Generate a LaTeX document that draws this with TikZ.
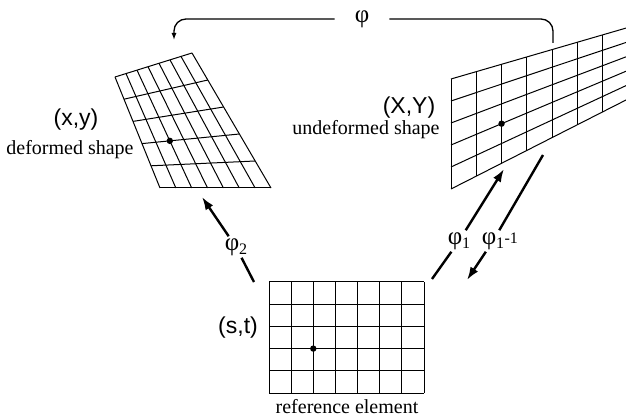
\documentclass[tikz,border=0pt]{standalone}
\usepackage{fontspec}
\setmainfont{Liberation Serif}
\newfontfamily\helvfont{Liberation Sans}
\usetikzlibrary{calc,arrows.meta}

% mesh of 7 x 5 cells between four corners: bottom left, bottom right, top right, top left
\newcommand{\meshgrid}[4]{%
  \foreach \i in {0,...,7}
    \draw[gridline] ($(#1)!\i/7!(#2)$) -- ($(#4)!\i/7!(#3)$);
  \foreach \j in {0,...,5}
    \draw[gridline] ($(#1)!\j/5!(#4)$) -- ($(#2)!\j/5!(#3)$);
  \fill ($ ($(#1)!2/7!(#2)$) !2/5! ($(#4)!2/7!(#3)$) $) circle (3.2pt);
}
\newcommand{\lowidx}[1]{\raisebox{-0.35ex}{\fontsize{16}{16}\selectfont #1}}

\begin{document}
\begin{tikzpicture}[x=1pt, y=-1pt]
    \tikzset{gridline/.style={line width=1pt},
             sanslabel/.style={font=\helvfont\fontsize{23}{25}\selectfont, inner sep=0pt},
             serlabel/.style={font=\fontsize{20}{22}\selectfont, inner sep=0pt},
             maplabel/.style={font=\fontsize{25}{26}\selectfont, fill=white, inner sep=2pt},
             maparrow/.style={line width=2.4pt, -{Latex[length=13pt, width=9pt]}},
             mapline/.style={line width=2.4pt}}
    \useasboundingbox (0,0) rectangle (626,419);

    \begin{scope}
        \clip (0,0) rectangle (626,419);

        % reference element
        \coordinate (refBL) at (269,393);
        \coordinate (refBR) at (424,393);
        \coordinate (refTR) at (424,282);
        \coordinate (refTL) at (269,282);
        \meshgrid{refBL}{refBR}{refTR}{refTL}
        \node[sanslabel] (stLab) at (238,328) {(s,t)};
        \node[serlabel] (refLab) at (347,407) {reference element};

        % undeformed shape
        \coordinate (undBL) at (451,189);
        \coordinate (undBR) at (628,99);
        \coordinate (undTR) at (628,27.5);
        \coordinate (undTL) at (451,79);
        \meshgrid{undBL}{undBR}{undTR}{undTL}
        \node[sanslabel] (XYLab) at (409,108) {(X,Y)};
        \node[serlabel] (undLab) at (366,130) {undeformed shape};

        % deformed shape
        \coordinate (defBL) at (160,188);
        \coordinate (defBR) at (271,188);
        \coordinate (defTR) at (192,53);
        \coordinate (defTL) at (115,77);
        \meshgrid{defBL}{defBR}{defTR}{defTL}
        \node[sanslabel] (xyLab) at (76,120) {(x,y)};
        \node[serlabel] (defLab) at (70,150) {deformed shape};
    \end{scope}

    % phi: undeformed -> deformed
    \coordinate (phiStart) at (553,43);
    \coordinate (phiEnd) at (174,40);
    \node[maplabel, inner xsep=20pt] (phiTop) at (362,19) {φ};
    \draw[line width=1.3pt, rounded corners=12pt] (phiStart) |- (phiTop);
    \draw[line width=1.3pt, rounded corners=12pt, -{Latex[length=7pt, width=5pt]}] (phiTop) -| (phiEnd);

    % phi_2: reference -> deformed
    \coordinate (twoStart) at (254,282);
    \coordinate (twoEnd) at (202,197);
    \node[maplabel] (phiTwo) at (236,247) {φ\lowidx{2}};
    \draw[mapline] (twoStart) -- (phiTwo);
    \draw[maparrow] (phiTwo) -- (twoEnd);

    % phi_1: reference -> undeformed
    \coordinate (oneStart) at (432,279);
    \coordinate (oneEnd) at (504,169);
    \node[maplabel] (phiOne) at (459,241) {φ\lowidx{1}};
    \draw[mapline] (oneStart) -- (phiOne);
    \draw[maparrow] (phiOne) -- (oneEnd);

    % phi_1^-1: undeformed -> reference
    \coordinate (invStart) at (543,155);
    \coordinate (invEnd) at (467,280);
    \node[maplabel, label={[inner sep=0pt, anchor=north west, xshift=-2pt, yshift=-2pt, font=\fontsize{16}{16}\selectfont]north east:-1}] (phiInv) at (493,241) {φ\lowidx{1}};
    \draw[mapline] (invStart) -- (phiInv);
    \draw[maparrow] (phiInv) -- (invEnd);
\end{tikzpicture}
\end{document}
